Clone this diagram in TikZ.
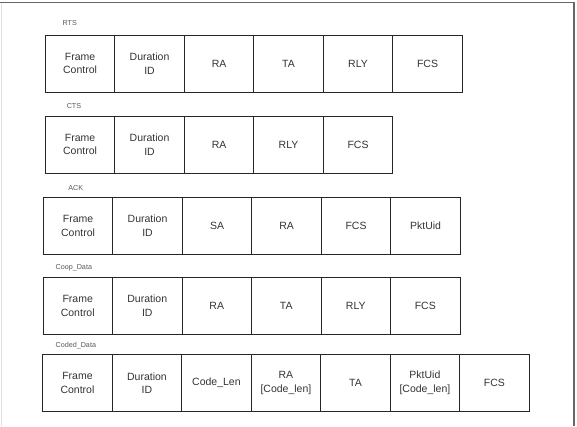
\documentclass[tikz,border=0pt]{standalone}
\usepackage{fontspec}
\setmainfont{Liberation Sans}
\usepackage{tikz}
\usetikzlibrary {positioning}
\tikzset{
        field/.style={draw=black!85, align=center, rectangle, line width=0.9pt,
        minimum width=69.5pt, minimum height=57pt, inner sep=0pt, outer sep=0pt,
        text=black!80, font=\fontsize{10.5}{13.5}\selectfont},
        fname/.style={text=black!65, font=\fontsize{7.2}{8}\selectfont},
        frameline/.style={draw=black!60, line width=1.2pt},
 }
\begin{document}
\begin{tikzpicture}[x=1pt, y=-1pt]
    \useasboundingbox (0,0) rectangle (577,426);
    \draw[frameline] (0,2.7) -- (574,2.7) -- (574,426);
    \draw[black!12] (1,2.7) -- (1,426);

    % RTS
    \node[fname] (rtsname) at (69.7,22.7) {RTS};
    \node[field, anchor=north west] (rts0) at (45.3,35) {Frame\\Control};
    \node[field, right=0pt of rts0] (rts1) {Duration\\ID};
    \node[field, right=0pt of rts1] (rts2) {RA};
    \node[field, right=0pt of rts2] (rts3) {TA};
    \node[field, right=0pt of rts3] (rts4) {RLY};
    \node[field, right=0pt of rts4] (rts5) {FCS};

    % CTS
    \node[fname] (ctsname) at (74,106) {CTS};
    \node[field, anchor=north west] (cts0) at (45.3,116) {Frame\\Control};
    \node[field, right=0pt of cts0] (cts1) {Duration\\ID};
    \node[field, right=0pt of cts1] (cts2) {RA};
    \node[field, right=0pt of cts2] (cts3) {RLY};
    \node[field, right=0pt of cts3] (cts4) {FCS};

    % ACK
    \node[fname] (ackname) at (75.8,188.3) {ACK};
    \node[field, anchor=north west] (ack0) at (43.3,197.3) {Frame\\Control};
    \node[field, right=0pt of ack0] (ack1) {Duration\\ID};
    \node[field, right=0pt of ack1] (ack2) {SA};
    \node[field, right=0pt of ack2] (ack3) {RA};
    \node[field, right=0pt of ack3] (ack4) {FCS};
    \node[field, right=0pt of ack4] (ack5) {PktUid};

    % Coop_Data
    \node[fname] (coopname) at (73.8,267.7) {Coop\_Data};
    \node[field, anchor=north west] (coop0) at (43,277.3) {Frame\\Control};
    \node[field, right=0pt of coop0] (coop1) {Duration\\ID};
    \node[field, right=0pt of coop1] (coop2) {RA};
    \node[field, right=0pt of coop2] (coop3) {TA};
    \node[field, right=0pt of coop3] (coop4) {RLY};
    \node[field, right=0pt of coop4] (coop5) {FCS};

    % Coded_Data
    \node[fname] (codedname) at (75.8,345.7) {Coded\_Data};
    \node[field, anchor=north west] (coded0) at (42.7,354.5) {Frame\\Control};
    \node[field, right=0pt of coded0] (coded1) {Duration\\ID};
    \node[field, right=0pt of coded1] (coded2) {Code\_Len};
    \node[field, right=0pt of coded2] (coded3) {RA\\{[Code\_len]}};
    \node[field, right=0pt of coded3] (coded4) {TA};
    \node[field, right=0pt of coded4] (coded5) {PktUid\\{[Code\_len]}};
    \node[field, right=0pt of coded5] (coded6) {FCS};

\end{tikzpicture}
\end{document}
